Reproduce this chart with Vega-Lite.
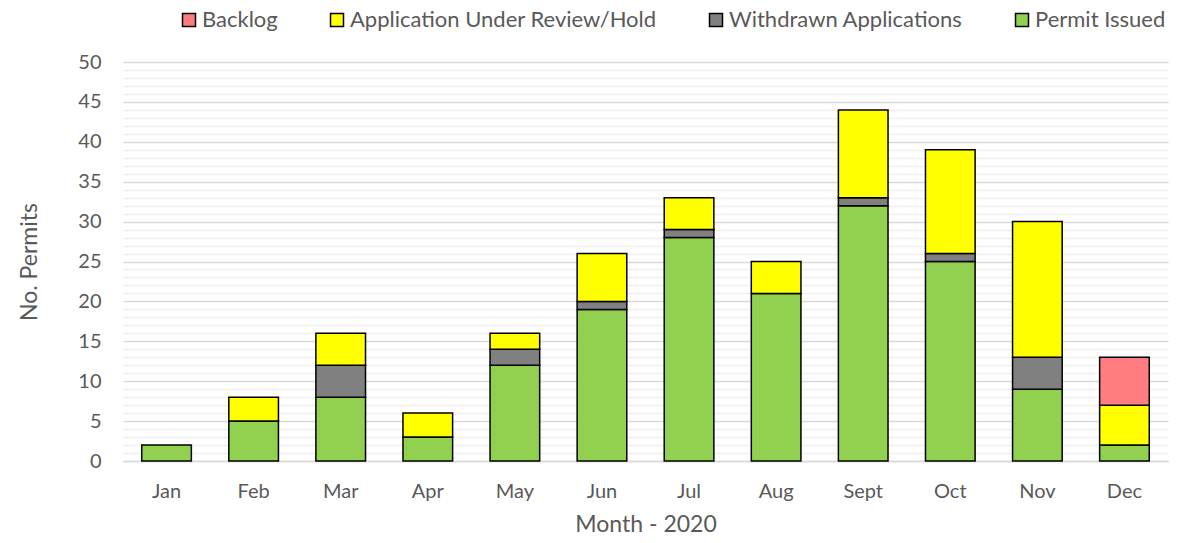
{
  "$schema": "https://vega.github.io/schema/vega-lite/v6.json",
  "width": 1045,
  "height": 399,
  "autosize": {"type": "none"},
  "padding": {"left": 123, "top": 62, "right": 20, "bottom": 82},
  "background": "white",
  "config": {
    "font": "Lato",
    "view": {"stroke": null},
    "axis": {"labelColor": "#595959", "titleColor": "#595959", "labelFont": "Lato", "titleFont": "Lato", "titleFontWeight": "normal"},
    "legend": {"labelColor": "#595959", "labelFont": "Lato"}
  },
  "data": {
    "values": [
      {"month": "Jan", "status": "Permit Issued", "order": 1, "count": 2},
      {"month": "Feb", "status": "Permit Issued", "order": 1, "count": 5},
      {"month": "Feb", "status": "Application Under Review/Hold", "order": 3, "count": 3},
      {"month": "Mar", "status": "Permit Issued", "order": 1, "count": 8},
      {"month": "Mar", "status": "Withdrawn Applications", "order": 2, "count": 4},
      {"month": "Mar", "status": "Application Under Review/Hold", "order": 3, "count": 4},
      {"month": "Apr", "status": "Permit Issued", "order": 1, "count": 3},
      {"month": "Apr", "status": "Application Under Review/Hold", "order": 3, "count": 3},
      {"month": "May", "status": "Permit Issued", "order": 1, "count": 12},
      {"month": "May", "status": "Withdrawn Applications", "order": 2, "count": 2},
      {"month": "May", "status": "Application Under Review/Hold", "order": 3, "count": 2},
      {"month": "Jun", "status": "Permit Issued", "order": 1, "count": 19},
      {"month": "Jun", "status": "Withdrawn Applications", "order": 2, "count": 1},
      {"month": "Jun", "status": "Application Under Review/Hold", "order": 3, "count": 6},
      {"month": "Jul", "status": "Permit Issued", "order": 1, "count": 28},
      {"month": "Jul", "status": "Withdrawn Applications", "order": 2, "count": 1},
      {"month": "Jul", "status": "Application Under Review/Hold", "order": 3, "count": 4},
      {"month": "Aug", "status": "Permit Issued", "order": 1, "count": 21},
      {"month": "Aug", "status": "Application Under Review/Hold", "order": 3, "count": 4},
      {"month": "Sept", "status": "Permit Issued", "order": 1, "count": 32},
      {"month": "Sept", "status": "Withdrawn Applications", "order": 2, "count": 1},
      {"month": "Sept", "status": "Application Under Review/Hold", "order": 3, "count": 11},
      {"month": "Oct", "status": "Permit Issued", "order": 1, "count": 25},
      {"month": "Oct", "status": "Withdrawn Applications", "order": 2, "count": 1},
      {"month": "Oct", "status": "Application Under Review/Hold", "order": 3, "count": 13},
      {"month": "Nov", "status": "Permit Issued", "order": 1, "count": 9},
      {"month": "Nov", "status": "Withdrawn Applications", "order": 2, "count": 4},
      {"month": "Nov", "status": "Application Under Review/Hold", "order": 3, "count": 17},
      {"month": "Dec", "status": "Permit Issued", "order": 1, "count": 2},
      {"month": "Dec", "status": "Application Under Review/Hold", "order": 3, "count": 5},
      {"month": "Dec", "status": "Backlog", "order": 4, "count": 6}
    ]
  },
  "mark": {"type": "bar", "stroke": "black", "strokeWidth": 1.5},
  "encoding": {
    "x": {
      "field": "month", "type": "nominal",
      "sort": ["Jan","Feb","Mar","Apr","May","Jun","Jul","Aug","Sept","Oct","Nov","Dec"],
      "scale": {"paddingInner": 0.43, "paddingOuter": 0.215},
      "axis": {"title": "Month - 2020", "titleFontSize": 23, "titlePadding": 12, "labelFontSize": 20, "labelAngle": 0, "labelPadding": 20, "ticks": false, "domainColor": "#d9d9d9", "domainWidth": 1.5}
    },
    "y": {
      "field": "count", "type": "quantitative", "aggregate": "sum", "stack": "zero",
      "scale": {"domain": [0, 50], "nice": false},
      "axis": {
        "title": "No. Permits", "titleFontSize": 23, "titlePadding": 36,
        "values": [0,1,2,3,4,5,6,7,8,9,10,11,12,13,14,15,16,17,18,19,20,21,22,23,24,25,26,27,28,29,30,31,32,33,34,35,36,37,38,39,40,41,42,43,44,45,46,47,48,49,50],
        "labelExpr": "datum.value % 5 === 0 ? datum.label : ''",
        "labelFontSize": 20, "labelPadding": 22,
        "ticks": false, "domain": false,
        "gridColor": {"condition": {"test": "datum.value % 5 === 0", "value": "#d9d9d9"}, "value": "#efefef"},
        "gridWidth": 1.5
      }
    },
    "color": {
      "field": "status", "type": "nominal",
      "scale": {
        "domain": ["Backlog", "Application Under Review/Hold", "Withdrawn Applications", "Permit Issued"],
        "range": ["#ff7c80", "#ffff00", "#808080", "#92d050"]
      },
      "legend": {
        "title": null, "orient": "none", "direction": "horizontal",
        "legendX": 55, "legendY": -53,
        "symbolType": "square", "symbolSize": 169, "symbolStrokeColor": "black", "symbolStrokeWidth": 1.5,
        "labelFontSize": 22, "labelLimit": 500, "columnPadding": 48, "labelOffset": 2
      }
    },
    "order": {"field": "order", "type": "quantitative"}
  }
}
